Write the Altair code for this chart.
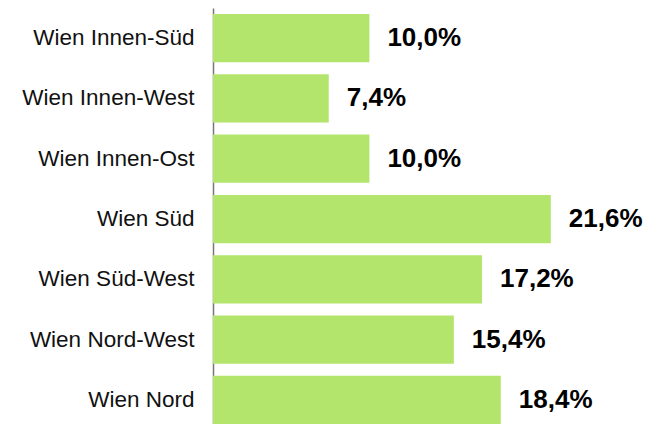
import altair as alt
import pandas as pd

regions = ["Wien Innen-Süd", "Wien Innen-West", "Wien Innen-Ost", "Wien Süd",
           "Wien Süd-West", "Wien Nord-West", "Wien Nord"]
shares = [10.0, 7.4, 10.0, 21.6, 17.2, 15.4, 18.4]
labels = ["10,0%", "7,4%", "10,0%", "21,6%", "17,2%", "15,4%", "18,4%"]

df = pd.DataFrame({"region": regions, "share": shares, "label": labels})

y = alt.Y("region:N", sort=regions, title=None,
          scale=alt.Scale(paddingInner=0.2, paddingOuter=0.05, align=1),
          axis=alt.Axis(ticks=False, labelPadding=19, labelFontSize=22.5,
                        labelFont="Liberation Sans", labelColor="#111111",
                        domainColor="#777777", domainWidth=1.5, grid=False))
x = alt.X("share:Q", title=None, scale=alt.Scale(domain=[0, 25]), axis=None)

bars = alt.Chart(df).mark_bar(color="#b3e46b").encode(x=x, y=y)
text = alt.Chart(df).mark_text(align="left", baseline="middle", dx=18,
                               font="Liberation Sans", fontSize=26,
                               fontWeight="bold", color="#000000").encode(
    x=x, y=y, text="label:N")

chart = (bars + text).properties(
    width=391, height=416,
    autosize=alt.AutoSizeParams(type="none"),
    padding={"left": 205, "top": 0, "right": 44, "bottom": 0},
).configure_view(stroke=None)

chart.save("out.html", embed_options={"renderer": "svg", "actions": False})
